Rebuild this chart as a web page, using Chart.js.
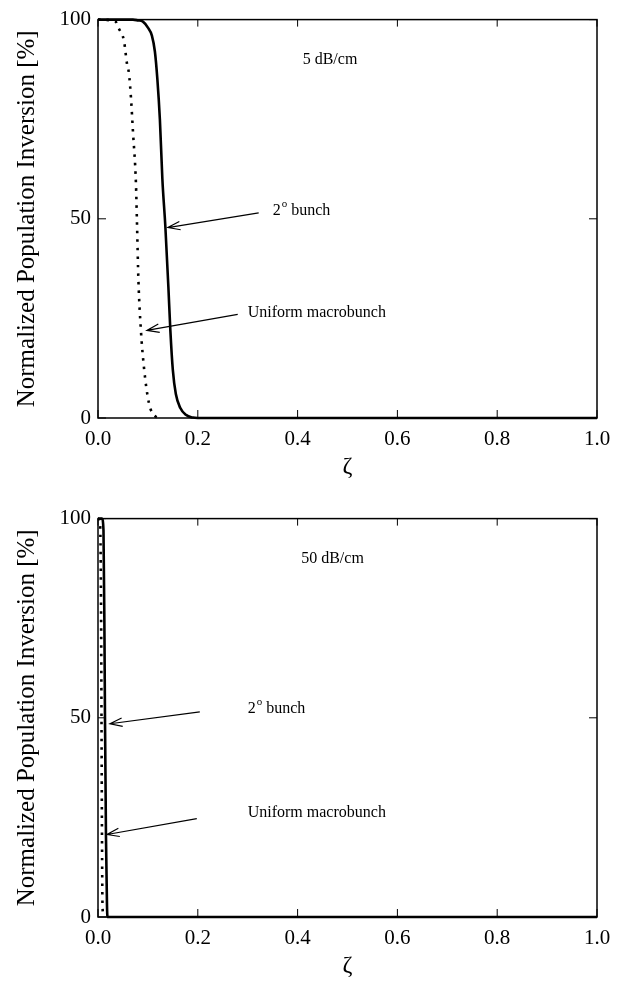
<!DOCTYPE html>
<html>
<head>
<meta charset="utf-8">
<script src="https://cdn.jsdelivr.net/npm/chart.js@4.4.1/dist/chart.umd.min.js"></script>
<style>
  body { margin: 0; background: #fff; width: 628px; height: 988px; overflow: hidden; }
  .box { position: absolute; left: 0; width: 628px; height: 489px; }
</style>
</head>
<body>
<div class="box" style="top:0"><canvas id="top"></canvas></div>
<div class="box" style="top:499px"><canvas id="bottom"></canvas></div>
<script>
// tick labels
const zetaTicks = [0, 0.2, 0.4, 0.6, 0.8, 1.0];
const inversionTicks = [0, 50, 100];

// 5 dB/cm panel
const zeta5Bunch = [0, 0.07, 0.08, 0.09, 0.1, 0.108, 0.114, 0.119, 0.124, 0.129, 0.135, 0.141, 0.145, 0.15, 0.156, 0.165, 0.176, 0.19, 0.2, 1.0];
const inv5Bunch  = [100, 100, 99.8, 99.5, 98, 96, 92, 85, 75, 60, 48, 33, 22, 12, 6, 2.5, 0.8, 0.1, 0, 0];
const zeta5Uniform = [0, 0.035, 0.042, 0.052, 0.058, 0.062, 0.066, 0.07, 0.076, 0.078, 0.081, 0.086, 0.092, 0.102, 0.116, 0.125];
const inv5Uniform  = [100, 99.5, 97.7, 94.7, 89, 86.5, 80.5, 72, 59, 49.6, 34.6, 22, 12.8, 3.8, 0.3, 0];

// 50 dB/cm panel
const zeta50Bunch = [0, 0.008, 0.011, 0.013, 0.014, 0.016, 0.018, 0.019, 1.0];
const inv50Bunch  = [100, 100, 97, 70, 50, 20, 3, 0, 0];
const zeta50Uniform = [0, 0.004, 0.006, 0.007, 0.008, 0.009, 0.011];
const inv50Uniform  = [100, 99, 80, 50, 20, 3, 0];

const serif = '"Liberation Serif", "Times New Roman", serif';

function pts(xs, ys) { return xs.map((x, i) => ({ x: x, y: ys[i] })); }

const framePlugin = {
  id: 'frame',
  afterDatasetsDraw(chart, args, opts) {
    const ctx = chart.ctx, a = chart.chartArea;
    const xs = chart.scales.x, ys = chart.scales.y;
    ctx.save();
    ctx.strokeStyle = '#000';
    ctx.lineWidth = 1.5;
    ctx.strokeRect(a.left, a.top, a.right - a.left, a.bottom - a.top);
    ctx.lineWidth = 1;
    ctx.beginPath();
    zetaTicks.forEach(v => {
      const px = xs.getPixelForValue(v);
      ctx.moveTo(px, a.bottom); ctx.lineTo(px, a.bottom - 8);
      ctx.moveTo(px, a.top); ctx.lineTo(px, a.top + 7);
    });
    inversionTicks.forEach(v => {
      const py = ys.getPixelForValue(v);
      ctx.moveTo(a.left, py); ctx.lineTo(a.left + 8, py);
      ctx.moveTo(a.right, py); ctx.lineTo(a.right - 8, py);
    });
    ctx.stroke();

    // annotations
    ctx.fillStyle = '#000';
    ctx.textBaseline = 'middle';
    ctx.font = '16px ' + serif;
    ctx.textAlign = 'center';
    ctx.fillText(opts.title, xs.getPixelForValue(opts.titleAt[0]), ys.getPixelForValue(opts.titleAt[1]));
    ctx.textAlign = 'left';
    opts.arrows.forEach(ar => {
      const tx = xs.getPixelForValue(ar.tail[0]), ty = ys.getPixelForValue(ar.tail[1]);
      const hx = xs.getPixelForValue(ar.head[0]), hy = ys.getPixelForValue(ar.head[1]);
      ctx.beginPath();
      ctx.lineWidth = 1.2;
      ctx.moveTo(tx, ty); ctx.lineTo(hx, hy);
      const ang = Math.atan2(ty - hy, tx - hx);
      const len = 13, spread = 0.33;
      ctx.moveTo(hx + len * Math.cos(ang + spread), hy + len * Math.sin(ang + spread));
      ctx.lineTo(hx, hy);
      ctx.lineTo(hx + len * Math.cos(ang - spread), hy + len * Math.sin(ang - spread));
      ctx.stroke();
      const lx = xs.getPixelForValue(ar.label[0]), ly = ys.getPixelForValue(ar.label[1]);
      if (ar.sup) {
        ctx.font = '16px ' + serif;
        ctx.fillText(ar.text, lx, ly);
        let w = ctx.measureText(ar.text).width;
        ctx.font = '11px ' + serif;
        ctx.fillText(ar.sup, lx + w + 1, ly - 7);
        w += ctx.measureText(ar.sup).width + 1;
        ctx.font = '16px ' + serif;
        ctx.fillText(ar.rest, lx + w, ly);
      } else {
        ctx.font = '16px ' + serif;
        ctx.fillText(ar.text, lx, ly);
      }
    });
    ctx.restore();
  }
};

function makeChart(id, solid, dotted, notes) {
  return new Chart(document.getElementById(id), {
    type: 'line',
    data: {
      datasets: [
        { data: solid, borderColor: '#000', borderWidth: 2.6, pointRadius: 0,
          cubicInterpolationMode: 'monotone', clip: 3 },
        { data: dotted, borderColor: '#000', borderWidth: 2.6, borderDash: [2.5, 6],
          borderCapStyle: 'butt', pointRadius: 0, cubicInterpolationMode: 'monotone', clip: 3 }
      ]
    },
    options: {
      responsive: true,
      maintainAspectRatio: false,
      animation: false,
      events: [],
      layout: { padding: { top: 18, right: 31, left: 0, bottom: 0 } },
      plugins: { legend: { display: false }, tooltip: { enabled: false }, frame: notes },
      scales: {
        x: {
          type: 'linear', min: 0, max: 1,
          afterBuildTicks: s => { s.ticks = zetaTicks.map(v => ({ value: v })); },
          afterFit: s => { s.height = 71; },
          grid: { display: false, drawTicks: false },
          border: { display: false },
          ticks: { color: '#000', padding: 9, maxRotation: 0, font: { family: serif, size: 21 },
                   callback: v => v.toFixed(1) },
          title: { display: true, text: 'ζ', color: '#000', font: { family: serif, size: 24 },
                   padding: { top: 0, bottom: 8 } }
        },
        y: {
          min: 0, max: 100,
          afterBuildTicks: s => { s.ticks = inversionTicks.map(v => ({ value: v })); },
          afterFit: s => { s.width = 98; },
          grid: { display: false, drawTicks: false },
          border: { display: false },
          ticks: { color: '#000', padding: 7, font: { family: serif, size: 21 } },
          title: { display: true, text: 'Normalized Population Inversion [%]', color: '#000',
                   font: { family: serif, size: 25 }, padding: { top: 12, bottom: 0 } }
        }
      }
    },
    plugins: [framePlugin]
  });
}

makeChart('top', pts(zeta5Bunch, inv5Bunch), pts(zeta5Uniform, inv5Uniform), {
  title: '5 dB/cm', titleAt: [0.465, 90],
  arrows: [
    { tail: [0.322, 51.5], head: [0.14, 47.8], label: [0.35, 52], text: '2', sup: 'o', rest: ' bunch' },
    { tail: [0.28, 26], head: [0.098, 22], label: [0.3, 26.5], text: 'Uniform macrobunch' }
  ]
});

makeChart('bottom', pts(zeta50Bunch, inv50Bunch), pts(zeta50Uniform, inv50Uniform), {
  title: '50 dB/cm', titleAt: [0.47, 90],
  arrows: [
    { tail: [0.204, 51.5], head: [0.024, 48.5], label: [0.3, 52.2], text: '2', sup: 'o', rest: ' bunch' },
    { tail: [0.198, 24.7], head: [0.018, 20.7], label: [0.3, 26.2], text: 'Uniform macrobunch' }
  ]
});
</script>
</body>
</html>
